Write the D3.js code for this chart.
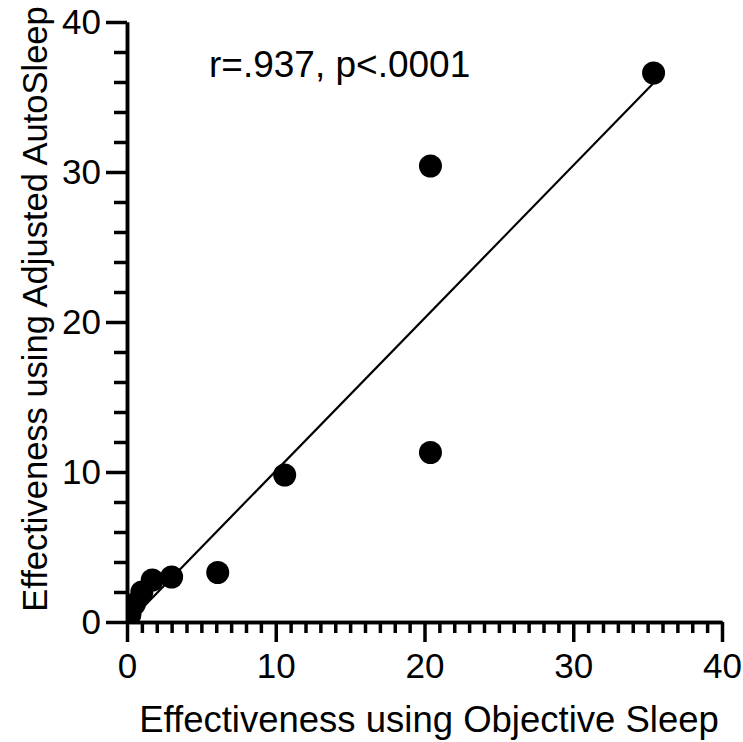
<!DOCTYPE html>
<html>
<head>
<meta charset="utf-8">
<script src="https://cdn.jsdelivr.net/npm/d3@7"></script>
<style>
  html, body { margin: 0; padding: 0; background: #fff; }
  svg { display: block; font-family: "Liberation Sans", Arial, sans-serif; }
</style>
</head>
<body>
<script>
// Effectiveness scores per subject: objective sleep (x) vs adjusted AutoSleep (y)
const objectiveSleep = [0.2, 0.5, 1.0, 1.7, 3.0, 6.1, 10.6, 20.4, 20.4, 35.4];
const adjustedAutoSleep = [0.5, 1.2, 2.0, 2.8, 3.0, 3.3, 9.8, 11.3, 30.4, 36.6];

// Least-squares fit drawn over the observed x range
const fitX = [0.2, 35.4];
const fitY = [0.09, 35.93];

const majorTicks = [0, 10, 20, 30, 40];
const xMinorTicks = d3.range(0, 41, 1);
const yMinorTicks = d3.range(0, 41, 2);

const annotation = "r=.937, p<.0001";
const xTitle = "Effectiveness using Objective Sleep";
const yTitle = "Effectiveness using Adjusted AutoSleep";

const width = 743, height = 742;
const plot = { left: 127, right: 722, top: 22, bottom: 622 };

const x = d3.scaleLinear().domain([0, 40]).range([plot.left, plot.right]);
const y = d3.scaleLinear().domain([0, 40]).range([plot.bottom, plot.top]);

const svg = d3.select("body").append("svg")
  .attr("width", width).attr("height", height);

svg.append("defs").append("clipPath").attr("id", "plot-clip")
  .append("rect")
  .attr("x", plot.left).attr("y", plot.top)
  .attr("width", plot.right - plot.left).attr("height", plot.bottom - plot.top);

// Regression line
svg.append("line")
  .attr("x1", x(fitX[0])).attr("y1", y(fitY[0]))
  .attr("x2", x(fitX[1])).attr("y2", y(fitY[1]))
  .attr("stroke", "#000").attr("stroke-width", 2.2);

// Data points
svg.append("g").attr("clip-path", "url(#plot-clip)")
  .selectAll("circle")
  .data(objectiveSleep.map((v, i) => [v, adjustedAutoSleep[i]]))
  .join("circle")
  .attr("cx", d => x(d[0]))
  .attr("cy", d => y(d[1]))
  .attr("r", 11.5)
  .attr("fill", "#000");

const tickFont = 35;

function styleAxis(g) {
  g.selectAll("path.domain").attr("stroke", "#000").attr("stroke-width", 3.5);
  g.selectAll(".tick line").attr("stroke", "#000").attr("stroke-width", 3.5);
  g.selectAll("text").attr("font-size", tickFont)
    .attr("font-family", "'Liberation Sans', Arial, sans-serif").attr("fill", "#000");
}

// X axis: minor ticks every 1, major every 10
svg.append("g")
  .attr("transform", `translate(0,${plot.bottom})`)
  .call(d3.axisBottom(x).tickValues(xMinorTicks.filter(v => !majorTicks.includes(v)))
    .tickSize(11).tickSizeOuter(0).tickFormat(""))
  .call(styleAxis);
svg.append("g")
  .attr("transform", `translate(0,${plot.bottom})`)
  .call(d3.axisBottom(x).tickValues(majorTicks).tickSize(20).tickSizeOuter(0).tickPadding(11))
  .call(styleAxis);

// Y axis: minor ticks every 2, major every 10
svg.append("g")
  .attr("transform", `translate(${plot.left},0)`)
  .call(d3.axisLeft(y).tickValues(yMinorTicks.filter(v => !majorTicks.includes(v)))
    .tickSize(13).tickSizeOuter(0).tickFormat(""))
  .call(styleAxis);
svg.append("g")
  .attr("transform", `translate(${plot.left},0)`)
  .call(d3.axisLeft(y).tickValues(majorTicks).tickSize(21).tickSizeOuter(0).tickPadding(5))
  .call(styleAxis);

// Correlation annotation
svg.append("text")
  .attr("x", 209).attr("y", 77)
  .attr("font-size", 37)
  .text(annotation);

// Axis titles
svg.append("text")
  .attr("x", (140 + 718) / 2).attr("y", 732)
  .attr("text-anchor", "middle")
  .attr("font-size", 36.5)
  .text(xTitle);

svg.append("text")
  .attr("transform", `translate(47,${309}) rotate(-90)`)
  .attr("text-anchor", "middle")
  .attr("font-size", 34.5)
  .text(yTitle);
</script>
</body>
</html>
